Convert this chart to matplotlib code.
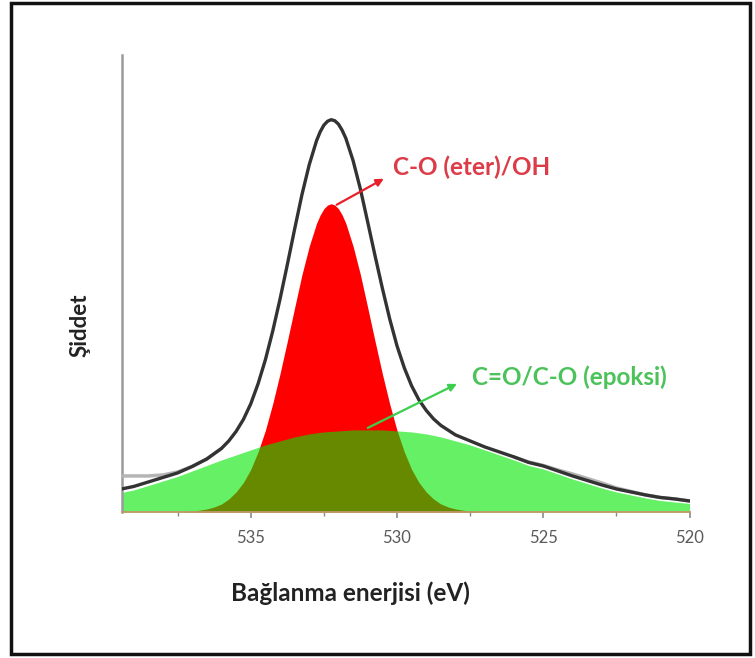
import numpy as np
import matplotlib
matplotlib.use("Agg")
import matplotlib.pyplot as plt
from matplotlib.patches import Rectangle

# ---------------- data ----------------
red_energy = [537.25, 537.0, 536.75, 536.5, 536.25, 536.0, 535.75, 535.5, 535.25, 535.0,
              534.75, 534.5, 534.25, 534.0, 533.75, 533.5, 533.25, 533.0, 532.75, 532.625,
              532.5, 532.375, 532.25, 532.125, 532.0, 531.875, 531.75, 531.5, 531.25, 531.0,
              530.75, 530.5, 530.25, 530.0, 529.75, 529.5, 529.25, 529.0, 528.75, 528.5,
              528.25, 528.0, 527.75, 527.5, 527.25]
red_int = [0.5, 1, 1.8, 3, 5, 8, 13, 20, 29.5, 42.5,
           60, 81.5, 108, 138, 170.5, 204, 237, 265.5, 288.5, 296.8,
           303, 306.7, 308, 306.7, 303, 296.8, 288.5, 265.5, 237, 204,
           170.5, 138, 108, 81.5, 60, 42.5, 29.5, 20, 13, 8,
           5, 3, 1.8, 1, 0.5]

green_energy = [539.5, 539.0, 538.5, 538.0, 537.5, 537.0, 536.5, 536.0, 535.5, 535.0,
                534.5, 534.0, 533.5, 533.0, 532.5, 532.0, 531.5, 531.0, 530.5, 530.0,
                529.5, 529.0, 528.5, 528.0, 527.5, 527.0, 526.5, 526.0, 525.5, 525.0,
                524.5, 524.0, 523.5, 523.0, 522.5, 522.0, 521.5, 521.0, 520.5, 520.0]
green_int = [19, 22, 26.5, 31, 35.5, 41, 46.5, 52, 57, 62,
             67, 71, 75, 78, 80, 81, 82, 82, 82, 81,
             80, 78, 75, 71, 67, 62, 57, 52, 46.5, 43,
             38, 33, 28.5, 24, 20, 17, 14, 11.5, 10, 8.5]

env_energy = [539.5, 539.0, 538.5, 538.0, 537.5, 537.0, 536.5, 536.0,
              535.75, 535.5, 535.25, 535.0, 534.75, 534.5, 534.25, 534.0, 533.75, 533.5,
              533.25, 533.0, 532.75, 532.625, 532.5, 532.375, 532.25, 532.125, 532.0,
              531.875, 531.75, 531.5, 531.25, 531.0,
              530.75, 530.5, 530.25, 530.0, 529.75, 529.5, 529.25, 529.0, 528.75, 528.5,
              528.0, 527.5, 527.0, 526.5, 526.0, 525.5, 525.0, 524.5, 524.0, 523.5,
              523.0, 522.5, 522.0, 521.5, 521.0, 520.5, 520.0]
env_int = [22.5, 25.5, 30, 34.5, 39, 45.5, 53, 63.5,
           71, 80.5, 92.5, 108, 128, 152, 180.5, 212.5, 247, 282.5,
           317, 347, 371, 379.9, 386.5, 390.4, 392, 390.9, 387.5,
           381.4, 373.5, 351, 322.5, 289.5,
           256, 223.5, 193, 166, 144, 126, 112, 101.5, 93, 86.5,
           77, 71, 65, 60, 55, 49.5, 46, 41, 36, 31.5,
           27, 23, 20, 17, 14.5, 13, 11]

raw_energy = [539.5, 539.0, 538.5, 538.0, 537.5, 537.0, 536.5, 536.0, 535.5,
              526.5, 526.0, 525.5, 525.0, 524.5, 524.0, 523.5, 523.0, 522.5, 522.0,
              521.5, 521.0, 520.5, 520.0]
raw_int = [36, 36, 36, 37, 40, 45.5, 53, 63.5, np.nan,
           np.nan, 55, 50, 46.5, 42, 38, 33.5, 29, 24, 20.5,
           17, 14.5, 13, 11]

major_ticks = [535, 530, 525, 520]
minor_ticks = [537.5, 532.5, 527.5, 522.5]
tick_labels = ["535", "530", "525", "520"]

label_red = "C-O (eter)/OH"
label_green = "C=O/C-O (epoksi)"
xlabel = "Bağlanma enerjisi (eV)"
ylabel = "Şiddet"

# annotation anchors (energy, intensity)
red_arrow = [(532.06, 307), (530.45, 333)]
green_arrow = [(531.0, 84), (527.95, 128)]
red_text_pos = (530.15, 344)
green_text_pos = (527.45, 135)

# ---------------- drawing ----------------
fig = plt.figure(figsize=(7.55, 6.58), dpi=100)
ax = fig.add_axes([0.1616, 0.2219, 0.7517, 0.6951])

RED = "#ff0000"
GREEN = "#00e600"
FONT = ["Lato", "DejaVu Sans"]

ax.fill_between(red_energy, 0, red_int, color=RED, lw=0, zorder=1)
ax.fill_between(green_energy, 0, green_int, color=GREEN, alpha=0.6, lw=0, zorder=2)
ax.plot(raw_energy, raw_int, color="#b4b4b4", lw=2.5, zorder=3, solid_capstyle="round")
ax.plot(env_energy, env_int, color="#333333", lw=2.4, zorder=4, solid_joinstyle="round")

ax.set_xlim(539.4, 520)
ax.set_ylim(0, 457)

ax.annotate("", xy=red_arrow[1], xytext=red_arrow[0],
            arrowprops=dict(arrowstyle="-|>", color="#e8202a", lw=1.6,
                            mutation_scale=11, shrinkA=0, shrinkB=0), zorder=6)
ax.annotate("", xy=green_arrow[1], xytext=green_arrow[0],
            arrowprops=dict(arrowstyle="-|>", color="#3ccf4e", lw=1.6,
                            mutation_scale=11, shrinkA=0, shrinkB=0), zorder=6)

ax.text(red_text_pos[0], red_text_pos[1], label_red, color="#dc3c48",
        fontsize=17.5, fontweight="bold", family=FONT,
        ha="left", va="center", zorder=7)
ax.text(green_text_pos[0], green_text_pos[1], label_green, color="#4cc35a",
        fontsize=17.5, fontweight="bold", family=FONT,
        ha="left", va="center", zorder=7)

# spines
for s in ["top", "right"]:
    ax.spines[s].set_visible(False)
ax.spines["left"].set_color("#9a9a9a")
ax.spines["left"].set_linewidth(1.8)
ax.spines["bottom"].set_color("#c09868")
ax.spines["bottom"].set_linewidth(1.3)
ax.spines["bottom"].set_zorder(5)

ax.set_yticks([])
ax.set_xticks(major_ticks)
ax.set_xticklabels(tick_labels)
ax.set_xticks(minor_ticks, minor=True)
ax.tick_params(axis="x", which="major", direction="out", length=4, width=1.2,
               color="#8a8a8a", labelcolor="#5a5a5a", labelsize=12, pad=9)
ax.tick_params(axis="x", which="minor", direction="out", length=3, width=1.0,
               color="#8a8a8a")
for t in ax.get_xticklabels():
    t.set_family(FONT)

ax.set_xlabel(xlabel, fontsize=17.5, fontweight="bold", color="#222222", family=FONT)
ax.xaxis.set_label_coords(0.402, -0.151)
ax.set_ylabel(ylabel, fontsize=16, fontweight="bold", color="#222222", family=FONT)
ax.yaxis.set_label_coords(-0.056, 0.409)

# outer frame
fig.patches.append(Rectangle((11 / 755, 4 / 658), (750 - 11) / 755, (654 - 3) / 658,
                             transform=fig.transFigure, fill=False,
                             edgecolor="#111111", lw=2.5))

fig.savefig("out.png", dpi=100)
